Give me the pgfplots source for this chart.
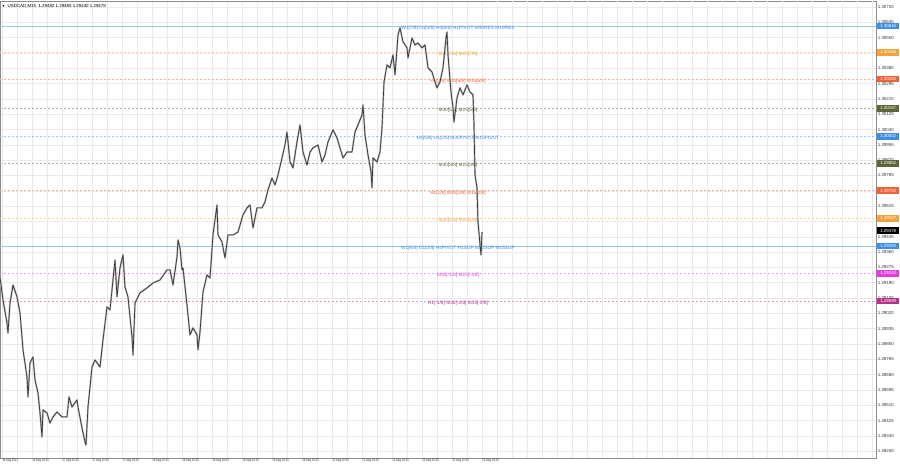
\documentclass[border=0pt]{standalone}
\usepackage{pgfplots}
\usepackage{pgfplotstable}
\pgfplotsset{compat=1.18}
\usepackage{fontspec}
\setmainfont{Liberation Sans}
\newfontfamily\narrowfont[FakeStretch=0.72]{Liberation Sans}

\definecolor{lvblue}{HTML}{3D8EE6}
\definecolor{lvorange}{HTML}{F2A23A}
\definecolor{lvred}{HTML}{EE6238}
\definecolor{lvolive}{HTML}{5C6636}
\definecolor{lvmag}{HTML}{E33CE3}
\definecolor{lvpurple}{HTML}{B2338A}
\definecolor{gridc}{HTML}{EAEAEA}

\newcommand\cf{\fontsize{3.3}{4}\selectfont}
\newcommand\lf{\fontsize{3.6}{4.2}\selectfont}

% M15 close path (x = bar position, p = price)
\pgfplotstableread{
x p
0 1.29222
3 1.29094
7 1.28966
8 1.28911
10 1.29077
13 1.29177
17 1.29111
20 1.29022
22 1.28889
23 1.28817
27 1.28667
28 1.28556
30 1.28744
33 1.28778
35 1.28650
38 1.28578
40 1.28467
42 1.28334
43 1.28484
47 1.28467
50 1.28411
53 1.28445
57 1.28472
62 1.28445
67 1.28445
69 1.28556
72 1.28500
77 1.28539
78 1.28500
82 1.28384
85 1.28306
86 1.28289
88 1.28500
92 1.28722
95 1.28761
100 1.28722
103 1.28872
107 1.29055
110 1.29039
113 1.29205
115 1.29316
117 1.29111
120 1.29272
123 1.29344
125 1.29166
128 1.29111
132 1.28889
133 1.28789
135 1.29077
140 1.29133
147 1.29161
153 1.29188
160 1.29205
167 1.29261
170 1.29261
173 1.29177
177 1.29333
178 1.29427
180 1.29383
182 1.29261
183 1.29272
187 1.29066
190 1.28900
193 1.28939
197 1.28900
198 1.28817
200 1.28916
203 1.29138
207 1.29233
210 1.29216
213 1.29455
217 1.29621
218 1.29455
222 1.29416
225 1.29327
228 1.29455
233 1.29455
238 1.29471
243 1.29566
247 1.29605
250 1.29621
253 1.29494
257 1.29605
262 1.29605
265 1.29638
268 1.29705
272 1.29771
275 1.29732
278 1.29788
282 1.29882
285 1.29954
287 1.30026
290 1.29860
293 1.29827
297 1.29971
300 1.30065
303 1.29915
307 1.29843
310 1.29915
313 1.29938
318 1.29954
322 1.29860
325 1.29899
328 1.29971
333 1.30038
337 1.29993
340 1.29938
343 1.29882
347 1.29915
352 1.29915
355 1.30026
358 1.30065
362 1.30121
363 1.30176
365 1.30010
368 1.29899
371 1.29804
372 1.29716
373 1.29882
377 1.29860
380 1.29915
382 1.30049
384 1.30304
387 1.30398
390 1.30382
393 1.30454
395 1.30343
398 1.30565
400 1.30604
403 1.30526
407 1.30493
408 1.30437
412 1.30548
415 1.30509
418 1.30520
422 1.30493
425 1.30509
428 1.30382
432 1.30359
435 1.30304
437 1.30271
440 1.30304
443 1.30382
446 1.30548
447 1.30581
448 1.30454
451 1.30248
453 1.30160
454 1.30082
457 1.30215
460 1.30271
463 1.30232
467 1.30287
470 1.30248
473 1.30232
474 1.30065
475 1.29788
477 1.29716
478 1.29527
480 1.29399
481 1.29344
482 1.29471
}\usdcad

% level line: price, colour, dash, label
\newcommand\level[4]{%
  \addplot[#2!50, #3, line width=0.45pt, forget plot] coordinates {(0,#1) (876,#1)};
  \node[text=#2, font=\lf, inner sep=0pt] at (axis cs:458,#1) [yshift=-1.6pt] {#4};
}

\begin{document}
\begin{tikzpicture}
\begin{axis}[
  scale only axis, width=657pt, height=342.75pt,
  xmin=0, xmax=876, ymin=1.28217, ymax=1.30753,
  axis line style={black!45, line width=0.5pt},
  tick style={draw=none},
  grid=major, major grid style={gridc, line width=0.35pt},
  xtick={2,17,...,482},
  xticklabels={16 Aug 2022,,16 Aug 18:30,,17 Aug 02:30,,17 Aug 10:30,,17 Aug 18:30,,18 Aug 02:30,,18 Aug 10:30,,18 Aug 18:30,,19 Aug 02:30,,19 Aug 10:30,,19 Aug 18:30,,22 Aug 02:30,,22 Aug 10:30,,22 Aug 18:30,,23 Aug 02:30,,23 Aug 10:30,,23 Aug 18:30},
  xticklabel style={font=\narrowfont\fontsize{2.9}{3.4}\selectfont, anchor=north west, inner sep=0pt, yshift=-0.6pt, text=black!80},
  extra x ticks={497,512,...,872}, extra x tick labels={},
  extra x tick style={grid=major, tick style={draw=none}},
  ytick={1.28255,1.28340,...,1.30720},
  yticklabel pos=right,
  scaled y ticks=false,
  /pgf/number format/assume math mode=true,
  yticklabel={\pgfmathprintnumber[fixed,fixed zerofill,precision=5]{\tick}},
  yticklabel style={font=\cf, anchor=west, inner sep=0pt, xshift=1.2pt, text=black!80},
]
\level{1.30615}{lvblue}{solid}{W1[7/8] D1[3/8] H4[8/8] H1PIVOT M30RES M15RES}
\level{1.30468}{lvorange}{dash pattern=on 1.6pt off 1.4pt}{M30[7/8] M15[7/8]}
\level{1.30320}{lvred}{dash pattern=on 1.6pt off 1.4pt}{H1[3/8] M30[6/8] M15[6/8]}
\level{1.30157}{lvolive}{dash pattern=on 1.6pt off 1.4pt}{M30[5/8] M15[5/8]}
\level{1.30002}{lvblue}{dash pattern=on 1.6pt off 1.4pt}{H4[5/8] H1[2/8] M30PIVOT M15PIVOT}
\level{1.29852}{lvolive}{dash pattern=on 1.6pt off 1.4pt}{M30[3/8] M15[3/8]}
\level{1.29700}{lvred}{dash pattern=on 1.6pt off 1.4pt}{H1[1/8] M30[2/8] M15[2/8]}
\level{1.29547}{lvorange}{dash pattern=on 1.6pt off 1.4pt}{M30[1/8] M15[1/8]}
\level{1.29393}{lvblue}{solid}{W1[6/8] D1[2/8] H4PIVOT H1SUP M30SUP M15SUP}
\level{1.29242}{lvmag}{dash pattern=on 1.6pt off 1.4pt}{M30[-1/8] M15[-1/8]}
\level{1.29089}{lvpurple}{dash pattern=on 1.6pt off 1.4pt}{H1[-1/8] M30[-2/8] M15[-2/8]}

\addplot[black!30, line width=1.3pt, line join=round] table[x=x, y=p]{\usdcad};
\addplot[black!80, line width=0.5pt, line join=round] table[x=x, y=p]{\usdcad};

\coordinate (b1) at (axis cs:876,1.30615);
\coordinate (b2) at (axis cs:876,1.30468);
\coordinate (b3) at (axis cs:876,1.30320);
\coordinate (b4) at (axis cs:876,1.30157);
\coordinate (b5) at (axis cs:876,1.30002);
\coordinate (b6) at (axis cs:876,1.29852);
\coordinate (b7) at (axis cs:876,1.29700);
\coordinate (b8) at (axis cs:876,1.29547);
\coordinate (b9) at (axis cs:876,1.29478);
\coordinate (b10) at (axis cs:876,1.29393);
\coordinate (b11) at (axis cs:876,1.29242);
\coordinate (b12) at (axis cs:876,1.29089);
\coordinate (tl) at (axis cs:0,1.30753);
\end{axis}
\foreach \c/\col/\v in {b1/lvblue/1.30615, b2/lvorange/1.30468, b3/lvred/1.30320,
  b4/lvolive/1.30157, b5/lvblue/1.30002, b6/lvolive/1.29852, b7/lvred/1.29700,
  b8/lvorange/1.29547, b9/black/1.29478, b10/lvblue/1.29393, b11/lvmag/1.29242,
  b12/lvpurple/1.29089}
  \node[anchor=west, fill=\col, text=white, font=\cf, inner sep=0pt,
        minimum width=16.5pt, minimum height=5pt] at ([xshift=0.7pt]\c) {\v};
\node[anchor=north west, font=\cf, inner sep=0pt] at ([xshift=1.2pt, yshift=-2pt]tl)
  {\fontsize{2.6}{3}\selectfont▼\cf\ \ USDCAD,M15\ \ 1.29482 1.29485 1.29430 1.29478};
\pgfresetboundingbox
\path[use as bounding box] (0,-7.5pt) rectangle (675pt,343.5pt);
\end{tikzpicture}
\end{document}
